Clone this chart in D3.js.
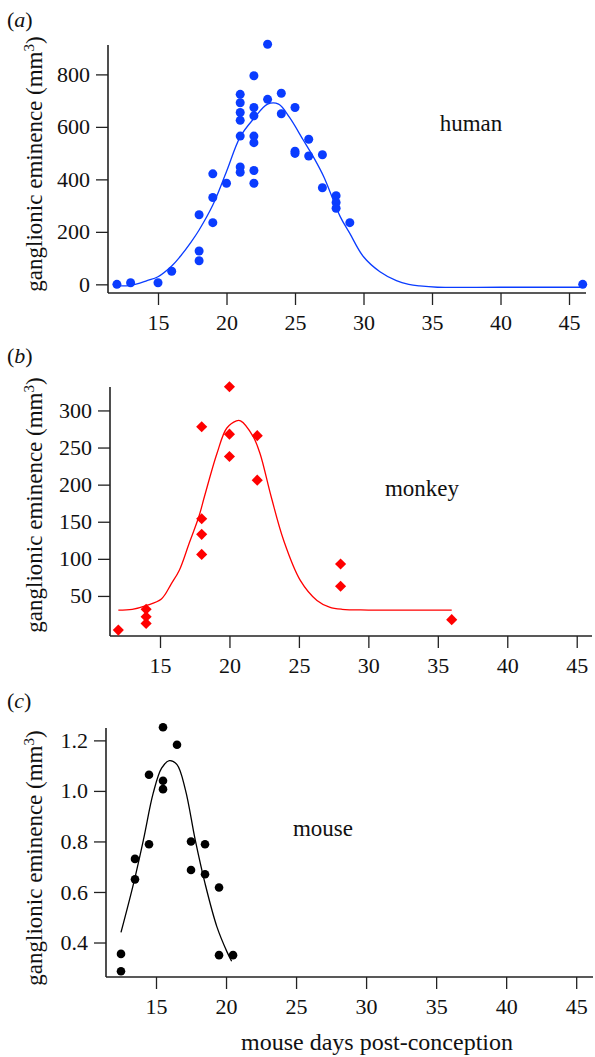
<!DOCTYPE html>
<html>
<head>
<meta charset="utf-8">
<script src="https://cdn.jsdelivr.net/npm/d3@7"></script>
<style>
  body { margin: 0; background: #fff; }
</style>
</head>
<body>
<div id="chart"></div>
<script>
// ---- data ----
var xTicks = [15, 20, 25, 30, 35, 40, 45];

// (a) human
var humanDays = [12, 13, 15, 16, 18, 18, 18, 19, 19, 19, 20,
  21, 21, 21, 21, 21, 21, 21,
  22, 22, 22, 22, 22, 22, 22,
  23, 23, 24, 24, 25, 25, 25, 26, 26, 27, 27, 28, 28, 28, 29, 46];
var humanVol = [0, 6, 6, 50, 265, 127, 90, 421, 331, 235, 385,
  724, 692, 655, 625, 565, 447, 427,
  795, 674, 642, 565, 540, 434, 385,
  915, 705, 728, 650, 674, 507, 499, 553, 489, 494, 368, 338, 312, 290, 235, 0];
var humanFitDays = [12, 13, 14.2, 15, 16, 16.6, 17.4, 18, 19, 20, 21, 22, 23, 23.8,
  24.6, 25.6, 26.4, 27.1, 28.3, 29, 30, 31.2, 32.4, 33.3, 34.1, 35.4, 40, 46];
var humanFitVol = [-6, -4, 14, 29, 70, 105, 160, 207, 302, 430, 562, 632, 687, 687,
  636, 550, 480, 410, 258, 194, 105, 48, 14, 0, -6, -11, -11, -11];
var humanYTicks = [0, 200, 400, 600, 800];

// (b) monkey
var monkeyDays = [12, 14, 14, 14, 18, 18, 18, 18, 20, 20, 20, 22, 22, 28, 28, 36];
var monkeyVol = [4, 32, 22, 13, 278, 154, 133, 106, 332, 268, 238, 266, 206, 93, 63, 18];
var monkeyFitDays = [12, 13, 14, 15.1, 15.8, 16.4, 17.1, 17.8, 18.2, 19.1, 19.8, 20.5, 20.8, 21.7,
  22.2, 23, 23.9, 25.1, 26.3, 27.2, 28.1, 30, 36];
var monkeyFitVol = [31, 32, 37, 46, 66, 85, 121, 157, 184, 242, 276, 286, 286, 265,
  242, 184, 125, 71, 44, 35, 32, 31, 31];
var monkeyYTicks = [50, 100, 150, 200, 250, 300];

// (c) mouse
var mouseDays = [12.5, 12.5, 13.5, 13.5, 14.5, 14.5, 15.5, 15.5, 15.5, 16.5,
  17.5, 17.5, 18.5, 18.5, 19.5, 19.5, 20.5];
var mouseVol = [0.286, 0.355, 0.731, 0.65, 1.064, 0.789, 1.252, 1.04, 1.007, 1.183,
  0.80, 0.687, 0.789, 0.67, 0.618, 0.35, 0.35];
var mouseFitDays = [12.5, 13.4, 14.1, 14.8, 15.4, 15.95, 16.5, 17.1, 17.8, 18.5,
  19.35, 20.07, 20.4];
var mouseFitVol = [0.44, 0.634, 0.806, 0.991, 1.09, 1.12, 1.104, 1.004, 0.806, 0.634,
  0.462, 0.363, 0.326];
var mouseYTicks = [0.4, 0.6, 0.8, 1.0, 1.2];

var width = 595;
var height = 1057;
var serif = "'Liberation Serif', 'Times New Roman', serif";

var svg = d3.select("#chart")
  .append("svg")
  .attr("width", width)
  .attr("height", height)
  .style("font-family", serif);

function drawPanel(p) {
  var x = d3.scaleLinear().domain(p.xDomain).range([p.left, p.right]);
  var y = d3.scaleLinear().domain(p.yDomain).range([p.bottom, p.top]);
  var g = svg.append("g");

  // axes
  var xAxis = g.append("g")
    .attr("transform", "translate(0," + p.bottom + ")")
    .call(d3.axisBottom(x).tickValues(xTicks).tickSize(12).tickPadding(9).tickFormat(d3.format("d")));
  var yAxis = g.append("g")
    .attr("transform", "translate(" + p.left + ",0)")
    .call(d3.axisLeft(y).tickValues(p.yTicks).tickSize(12).tickPadding(6).tickFormat(p.fmt));

  [xAxis, yAxis].forEach(function (a) {
    a.attr("font-family", null);
    a.select(".domain").attr("stroke", "#222").attr("stroke-width", 1.6);
    a.selectAll(".tick line").attr("stroke", "#222").attr("stroke-width", 1.3);
    a.selectAll(".tick text")
      .style("font-family", serif)
      .style("font-size", "22px")
      .attr("fill", "#111");
  });
  // plain axis lines, no end ticks
  xAxis.select(".domain").attr("d", "M" + p.left + ",0H" + p.right);
  yAxis.select(".domain").attr("d", "M0," + p.top + "V" + p.bottom);

  // fitted curve
  var fit = p.fitX.map(function (d, i) { return [d, p.fitY[i]]; });
  g.append("path")
    .datum(fit)
    .attr("fill", "none")
    .attr("stroke", p.color)
    .attr("stroke-width", 1.3)
    .attr("d", d3.line()
      .x(function (d) { return x(d[0]); })
      .y(function (d) { return y(d[1]); })
      .curve(d3.curveCatmullRom.alpha(0.5)));

  // points
  var pts = p.px.map(function (d, i) { return [d, p.py[i]]; });
  if (p.diamond) {
    g.selectAll(".pt").data(pts).enter()
      .append("path")
      .attr("class", "pt")
      .attr("d", d3.symbol().type(d3.symbolSquare).size(62))
      .attr("transform", function (d) { return "translate(" + x(d[0]) + "," + y(d[1]) + ") rotate(45)"; })
      .attr("fill", p.color);
  } else {
    g.selectAll(".pt").data(pts).enter()
      .append("circle")
      .attr("class", "pt")
      .attr("cx", function (d) { return x(d[0]); })
      .attr("cy", function (d) { return y(d[1]); })
      .attr("r", p.r)
      .attr("fill", p.color);
  }

  // panel letter
  var lab = g.append("text")
    .attr("x", 7)
    .attr("y", p.letterY)
    .style("font-family", serif)
    .style("font-size", "22px")
    .attr("fill", "#111");
  lab.append("tspan").text("(");
  lab.append("tspan").style("font-style", "italic").text(p.letter);
  lab.append("tspan").text(")");

  // y title
  var yt = g.append("text")
    .attr("transform", "translate(" + 42 + "," + p.titleY + ") rotate(-90)")
    .attr("text-anchor", "middle")
    .style("font-family", serif)
    .style("font-size", "23px")
    .attr("fill", "#111");
  yt.append("tspan").text("ganglionic eminence (mm");
  yt.append("tspan").attr("baseline-shift", "super").style("font-size", "15px").text("3");
  yt.append("tspan").text(")");

  // species name
  g.append("text")
    .attr("x", p.nameX)
    .attr("y", p.nameY)
    .attr("text-anchor", "middle")
    .style("font-family", serif)
    .style("font-size", "23px")
    .attr("fill", "#111")
    .text(p.name);
}

drawPanel({
  left: 108, right: 586, top: 45, bottom: 293,
  xDomain: [11.35, 46.24], yDomain: [-33, 912],
  yTicks: humanYTicks, fmt: d3.format("d"),
  px: humanDays, py: humanVol, fitX: humanFitDays, fitY: humanFitVol,
  color: "#0a3cff", r: 4.5, diamond: false,
  letter: "a", letterY: 27, titleY: 164,
  name: "human", nameX: 471, nameY: 131
});

drawPanel({
  left: 110, right: 592, top: 387, bottom: 636,
  xDomain: [11.4, 46.1], yDomain: [-4, 331.6],
  yTicks: monkeyYTicks, fmt: d3.format("d"),
  px: monkeyDays, py: monkeyVol, fitX: monkeyFitDays, fitY: monkeyFitVol,
  color: "#ff0000", diamond: true,
  letter: "b", letterY: 363, titleY: 505,
  name: "monkey", nameX: 422, nameY: 496
});

drawPanel({
  left: 106, right: 593, top: 728, bottom: 977,
  xDomain: [11.43, 46.2], yDomain: [0.2635, 1.249],
  yTicks: mouseYTicks, fmt: d3.format(".1f"),
  px: mouseDays, py: mouseVol, fitX: mouseFitDays, fitY: mouseFitVol,
  color: "#000000", r: 4.3, diamond: false,
  letter: "c", letterY: 708, titleY: 858,
  name: "mouse", nameX: 323, nameY: 836
});

svg.append("text")
  .attr("x", 377)
  .attr("y", 1050)
  .attr("text-anchor", "middle")
  .style("font-family", serif)
  .style("font-size", "24px")
  .attr("fill", "#111")
  .text("mouse days post-conception");
</script>
</body>
</html>
